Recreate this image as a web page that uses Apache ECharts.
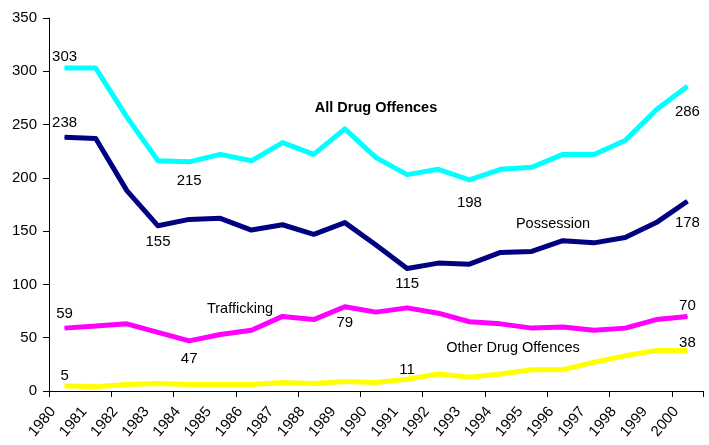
<!DOCTYPE html>
<html>
<head>
<meta charset="utf-8">
<script src="https://cdn.jsdelivr.net/npm/echarts@6/dist/echarts.min.js"></script>
<style>
  html, body { margin: 0; padding: 0; background: #fff; }
  #chart { width: 709px; height: 445px; }
</style>
</head>
<body>
<div id="chart"></div>
<script>
// Drug offences by year, 1980-2000
const years = ['1980','1981','1982','1983','1984','1985','1986','1987','1988','1989','1990',
               '1991','1992','1993','1994','1995','1996','1997','1998','1999','2000'];
const allDrug     = [303,303,257,216,215,222,216,233,222,246,219,203,208,198,208,210,222,222,235,264,286];
const possession  = [238,237,188,155,161,162,151,156,147,158,137,115,120,119,130,131,141,139,144,158,178];
const trafficking = [59,61,63,55,47,53,57,70,67,79,74,78,73,65,63,59,60,57,59,67,70];
const otherDrug   = [5,4,6,7,6,6,6,8,7,9,8,11,16,13,16,20,20,27,33,38,38];
const yTicks = { min: 0, max: 350, interval: 50 };

// which points carry a value label: index -> [position, distance]
const allDrugLabels     = { 0: ['top', 3], 4: ['bottom', 11], 13: ['bottom', 15], 20: ['bottom', 18] };
const possessionLabels  = { 0: ['top', 7], 3: ['bottom', 8], 11: ['bottom', 7], 20: ['bottom', 14] };
const traffickingLabels = { 0: ['top', 6], 4: ['bottom', 10], 9: ['bottom', 8], 20: ['top', 3] };
const otherLabels       = { 0: ['top', 2], 11: ['top', 1], 20: ['top', 0] };

const FONT = 'Liberation Sans, Arial, sans-serif';

function withLabels(values, marks) {
  return values.map((v, i) => {
    const m = marks[i];
    if (!m) return v;
    return {
      value: v,
      label: { show: true, position: m[0], distance: m[1], color: '#000', fontSize: 15, fontFamily: FONT }
    };
  });
}

function lineSeries(name, values, marks, color) {
  return {
    name, type: 'line', xAxisIndex: 0, yAxisIndex: 0,
    data: withLabels(values, marks),
    // tiny symbols hidden inside the stroke; they carry the value labels
    symbol: 'circle', symbolSize: 1, showSymbol: true, showAllSymbol: true,
    smooth: false,
    lineStyle: { color, width: 5, join: 'round' },
    itemStyle: { color },
    label: { show: false },
    emphasis: { disabled: true },
    z: 3
  };
}

// label axis: one extra slot so the year labels sit on the band boundaries
const yearSlots = years.concat(['']);

const chart = echarts.init(document.getElementById('chart'), null, { renderer: 'canvas' });
chart.setOption({
  animation: false,
  backgroundColor: '#fff',
  grid: [
    { left: 49, right: 6, top: 18, bottom: 54, containLabel: false },
    { left: 53, right: 2, top: 18, bottom: 54, containLabel: false }
  ],
  xAxis: [
    {
      type: 'category', gridIndex: 0, data: years, boundaryGap: true,
      axisLine: { lineStyle: { color: '#000', width: 1 } },
      axisTick: { show: true, length: 6, lineStyle: { color: '#000' } },
      axisLabel: { show: false },
      splitLine: { show: false }
    },
    {
      type: 'category', gridIndex: 1, data: yearSlots, boundaryGap: false,
      axisLine: { show: false }, axisTick: { show: false },
      axisLabel: {
        show: true, rotate: 50, interval: 0, margin: 18,
        color: '#000', fontSize: 15, fontFamily: FONT
      },
      splitLine: { show: false }
    }
  ],
  yAxis: [
    {
      type: 'value', gridIndex: 0, min: yTicks.min, max: yTicks.max, interval: yTicks.interval,
      axisLine: { show: true, lineStyle: { color: '#000', width: 1 } },
      axisTick: { show: true, length: 6, lineStyle: { color: '#000' } },
      axisLabel: { color: '#000', fontSize: 15, fontFamily: FONT, margin: 12 },
      splitLine: { show: false }
    },
    {
      type: 'value', gridIndex: 1, min: yTicks.min, max: yTicks.max, show: false
    }
  ],
  series: [
    lineSeries('All Drug Offences', allDrug, allDrugLabels, '#00FFFF'),
    lineSeries('Possession', possession, possessionLabels, '#000080'),
    lineSeries('Trafficking', trafficking, traffickingLabels, '#FF00FF'),
    lineSeries('Other Drug Offences', otherDrug, otherLabels, '#FFFF00')
  ],
  graphic: [
    { type: 'text', x: 376, y: 108, style: { text: 'All Drug Offences', fill: '#000', font: 'bold 14.5px ' + FONT, textAlign: 'center', textVerticalAlign: 'middle' } },
    { type: 'text', x: 553, y: 224, style: { text: 'Possession', fill: '#000', font: '14.5px ' + FONT, textAlign: 'center', textVerticalAlign: 'middle' } },
    { type: 'text', x: 240, y: 309, style: { text: 'Trafficking', fill: '#000', font: '14.5px ' + FONT, textAlign: 'center', textVerticalAlign: 'middle' } },
    { type: 'text', x: 513, y: 348, style: { text: 'Other Drug Offences', fill: '#000', font: '14.5px ' + FONT, textAlign: 'center', textVerticalAlign: 'middle' } }
  ]
});
</script>
</body>
</html>
